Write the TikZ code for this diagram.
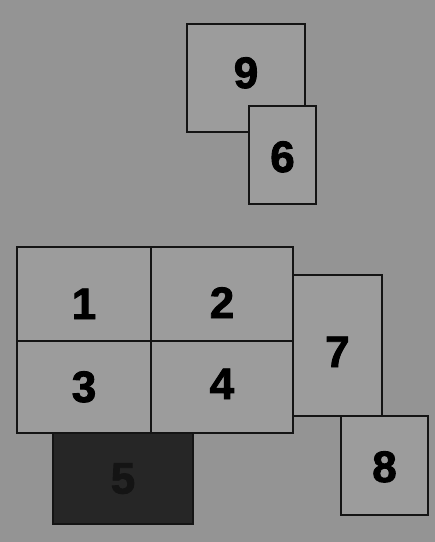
\documentclass[tikz,border=0pt]{standalone}
\usepackage{fontspec}
\newfontfamily\plotface{Liberation Sans Bold}[FakeBold=2]
\providecommand{\PLfont}{\fontsize{44}{44}\plotface}
\definecolor{paper}{gray}{0.58}
\definecolor{plotfill}{gray}{0.61}
\definecolor{plotdark}{gray}{0.15}
\definecolor{plotdarktext}{gray}{0.08}
\definecolor{plotline}{gray}{0.08}
\tikzset{
  plot/.style={rectangle, draw=plotline, line width=1.2pt, fill=plotfill,
               inner sep=0pt, outer sep=0pt, font=\PLfont, text=black,
               text depth=0pt},
  darkplot/.style={plot, fill=plotdark, text=plotdarktext}
}
\begin{document}
\begin{tikzpicture}[x=1pt, y=-1pt]

\fill[paper] (0,0) rectangle (435,542);
\useasboundingbox (0,0) rectangle (435,542);

% plots, drawn in order so that 6 lies over 9
% (last value: text height, which moves the digit up or down)
\foreach \pid/\px/\py/\pw/\ph/\pt in {9/246/78/118/108/20, 6/282.5/155/67/98/34,
    1/84/294/134/94/50, 2/222/294/142/94/48, 3/84/387/134/92/30,
    4/222/387/142/92/24, 7/337.5/345.5/89/141/43, 8/384.5/465.5/87/99/33}{
  \node (p\pid) [plot, minimum width={\pw pt}, minimum height={\ph pt},
                 text height={\pt pt}]
      at (\px,\py) {\pid};
}

% the dark plot
\node (p5) [darkplot, minimum width=140pt, minimum height=91pt,
            text height=30pt] at (123,478.5) {5};

\end{tikzpicture}
\end{document}
